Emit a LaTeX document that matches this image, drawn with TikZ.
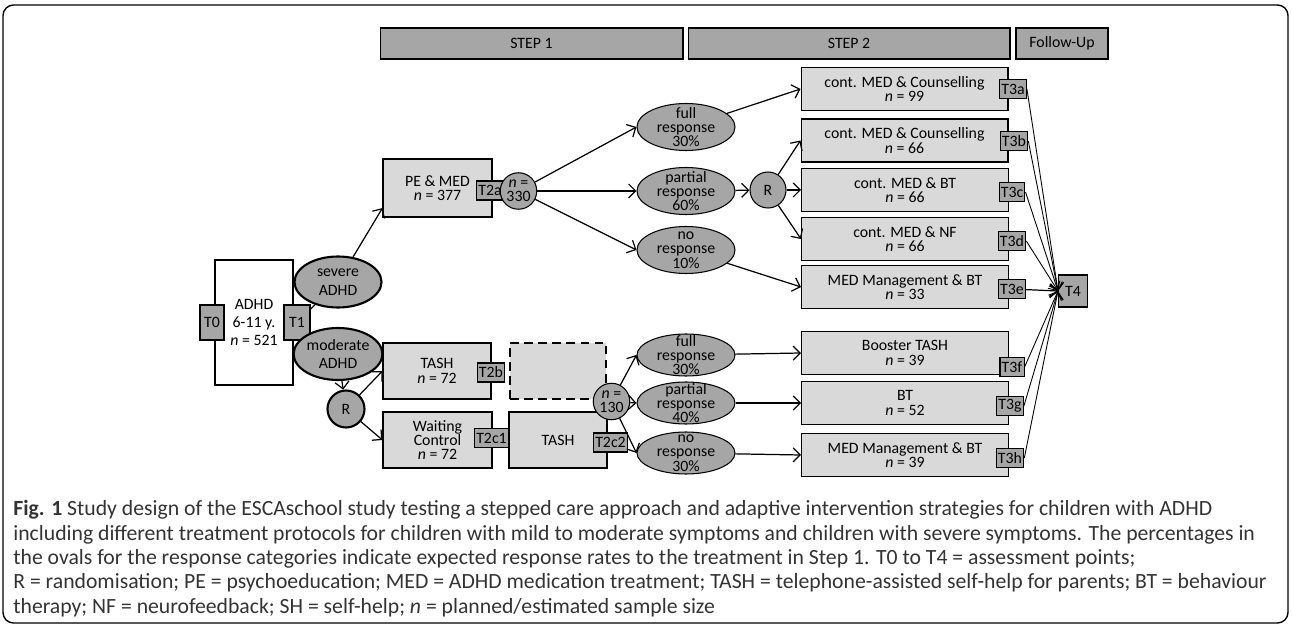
\documentclass[tikz,border=0pt]{standalone}
\usepackage{fontspec}
\setmainfont{Carlito}
\usetikzlibrary{arrows.meta,shapes.geometric}
\definecolor{boxgray}{HTML}{D9D9D9}
\definecolor{markgray}{HTML}{A6A6A6}
\begin{document}
\begin{tikzpicture}[x=0.02cm, y=-0.02cm,
	>={Straight Barb[length=4pt,width=8pt]},
	every node/.style={font=\fontsize{9}{8.2}\selectfont},
	stepbar/.style={draw, fill=markgray, minimum height=0.62cm, font=\fontsize{9}{10}\selectfont, line width=0.6pt},
	cbox/.style={draw, fill=boxgray, align=center, line width=0.6pt, minimum width=2.18cm, minimum height=1.14cm},
	widebox/.style={cbox, minimum width=4.14cm, minimum height=0.86cm},
	tmark/.style={draw, fill=markgray, inner xsep=1pt, inner ysep=0pt, minimum height=0.38cm, line width=0.6pt},
	oval/.style={draw, fill=markgray, ellipse, align=center, inner xsep=0pt, inner ysep=-3pt, minimum width=1.96cm, minimum height=0.94cm, line width=0.6pt},
	rnode/.style={draw, fill=markgray, circle, align=center, inner sep=0pt, minimum size=0.73cm, line width=0.6pt},
	link/.style={->, line width=0.7pt}]
	\useasboundingbox (0,0) rectangle (1292,628);
	\draw[line width=0.8pt, rounded corners=6pt] (3,5) rectangle (1288,623);

	\node[stepbar, minimum width=6.06cm] (step1) at (531.5,43.5) {STEP 1};
	\node[stepbar, minimum width=6.44cm] (step2) at (849,43.5) {STEP 2};
	\node[stepbar, minimum width=1.84cm] (follow) at (1062,43.5) {Follow-Up};

	\node[draw, fill=white, align=center, line width=0.6pt, minimum width=1.56cm, minimum height=2.5cm, font=\fontsize{9}{10.3}\selectfont] (adhd) at (254,322.5) {ADHD \\ 6-11 y. \\ \textit{n} = 521};
	\node[tmark, minimum height=0.7cm, minimum width=0.48cm] (T0) at (212,322.5) {T0};
	\node[tmark, minimum height=0.7cm, minimum width=0.52cm] (T1) at (297,322.5) {T1};
	\node[oval, minimum width=1.74cm, minimum height=1.02cm, line width=1.2pt, inner ysep=0pt, font=\fontsize{9}{10.8}\selectfont] (sev) at (338,282) {severe \\ ADHD};
	\node[oval, minimum width=1.74cm, minimum height=1.04cm, line width=1.2pt, inner ysep=0pt, font=\fontsize{9}{10.8}\selectfont] (mod) at (338,354) {moderate \\ ADHD};
	\node[rnode, minimum size=0.74cm, line width=1.2pt] (Rlow) at (346,409) {R};

	\node[cbox, minimum height=1.16cm] (pemed) at (437.5,188) {PE \& MED \\ \textit{n} = 377};
	\node[tmark] (T2a) at (490,190.5) {T2a};
	\node[rnode] (n330) at (518.5,191) {\textit{n} = \\ 330};

	\node[cbox, minimum width=2.16cm, minimum height=1.12cm] (tash) at (437,371) {TASH \\ \textit{n} = 72};
	\node[tmark] (T2b) at (491,372.5) {T2b};
	\node[draw, fill=boxgray, dashed, line width=1.6pt, dash pattern=on 5pt off 3pt, minimum width=1.92cm, minimum height=1.12cm] (gap) at (558,371) {};
	\node[cbox, minimum height=1.12cm] (wait) at (437.5,440) {Waiting \\ Control \\ \textit{n} = 72};
	\node[cbox, minimum width=1.96cm, minimum height=1.12cm] (tash2) at (558,440) {TASH};
	\node[tmark] (T2c1) at (491.5,438) {T2c1};
	\node[tmark] (T2c2) at (610.5,442.5) {T2c2};
	\node[rnode] (n130) at (611.5,401.5) {\textit{n} = \\ 130};

	\node[oval] (fullA) at (686,127) {full \\ response \\ 30\%};
	\node[oval] (partA) at (686,191) {partial \\ response \\ 60\%};
	\node[oval] (noA) at (686,250) {no \\ response \\ 10\%};
	\node[rnode, minimum size=0.72cm] (Rup) at (768,190) {R};

	\node[oval, minimum height=0.84cm] (fullB) at (686,355) {full \\ response \\ 30\%};
	\node[oval, minimum height=0.84cm] (partB) at (686,403) {partial \\ response \\ 40\%};
	\node[oval, minimum height=0.84cm] (noB) at (686,453) {no \\ response \\ 30\%};

	\node[widebox] (boxa) at (904.5,89) {cont. MED \& Counselling \\ \textit{n} = 99};
	\node[widebox] (boxb) at (904.5,140.5) {cont. MED \& Counselling \\ \textit{n} = 66};
	\node[widebox] (boxc) at (905,190) {cont. MED \& BT \\ \textit{n} = 66};
	\node[widebox] (boxd) at (905,239) {cont. MED \& NF \\ \textit{n} = 66};
	\node[widebox] (boxe) at (905,287) {MED Management \& BT \\ \textit{n} = 33};
	\node[widebox] (boxf) at (905,353) {Booster TASH \\ \textit{n} = 39};
	\node[widebox] (boxg) at (905,403) {BT \\ \textit{n} = 52};
	\node[widebox] (boxh) at (905,455) {MED Management \& BT \\ \textit{n} = 39};

	\node[tmark] (T3a) at (1013,89) {T3a};
	\node[tmark] (T3b) at (1014,141) {T3b};
	\node[tmark] (T3c) at (1012,192) {T3c};
	\node[tmark] (T3d) at (1012,241) {T3d};
	\node[tmark] (T3e) at (1012,289) {T3e};
	\node[tmark] (T3f) at (1012,367) {T3f};
	\node[tmark] (T3g) at (1010,406) {T3g};
	\node[tmark] (T3h) at (1010,458) {T3h};
	\node[tmark, minimum height=0.64cm, minimum width=0.58cm] (T4) at (1073,291) {T4};

	\draw[line width=0.7pt] (T1) -- (sev);
	\draw[line width=0.7pt] (T1) -- (mod);
	\draw[link] (sev) -- (pemed.200);
	\draw[link] (mod) -- (Rlow);
	\draw[link] (Rlow) -- (tash.west);
	\draw[link] (Rlow) -- (wait.west);
	\draw[link] (n330) -- (fullA.west);
	\draw[link] (n330) -- (partA.west);
	\draw[link] (n330) -- (noA.west);
	\draw[link] (partA) -- (Rup);
	\draw[link] (fullA) -- (boxa.west);
	\draw[link] (Rup) -- (boxb.west);
	\draw[link] (Rup) -- (boxc.west);
	\draw[link] (Rup) -- (boxd.west);
	\draw[link] (noA) -- (boxe.west);
	\draw[link] (n130) -- (fullB.west);
	\draw[link] (n130) -- (partB.west);
	\draw[link] (n130) -- (noB.west);
	\draw[link] (fullB) -- (boxf.west);
	\draw[link] (partB) -- (boxg.west);
	\draw[link] (noB) -- (boxh.west);
	\foreach \t in {T3a,T3b,T3c,T3d,T3f,T3g,T3h}
		\draw[->, line width=0.5pt] (\t.east) -- (T4.west);
	\draw[link] (T3e) -- (T4.west);

	\node[anchor=north west, align=left, inner sep=0pt, text=black!80, font=\fontsize{12.35}{13.9}\selectfont] (caption) at (13,500) {\textbf{Fig. 1} Study design of the ESCAschool study testing a stepped care approach and adaptive intervention strategies for children with ADHD \\ including different treatment protocols for children with mild to moderate symptoms and children with severe symptoms. The percentages in \\ the ovals for the response categories indicate expected response rates to the treatment in Step 1. T0 to T4 = assessment points; \\ R = randomisation; PE = psychoeducation; MED = ADHD medication treatment; TASH = telephone-assisted self-help for parents; BT = behaviour \\ therapy; NF = neurofeedback; SH = self-help; \textit{n} = planned/estimated sample size};
\end{tikzpicture}
\end{document}
